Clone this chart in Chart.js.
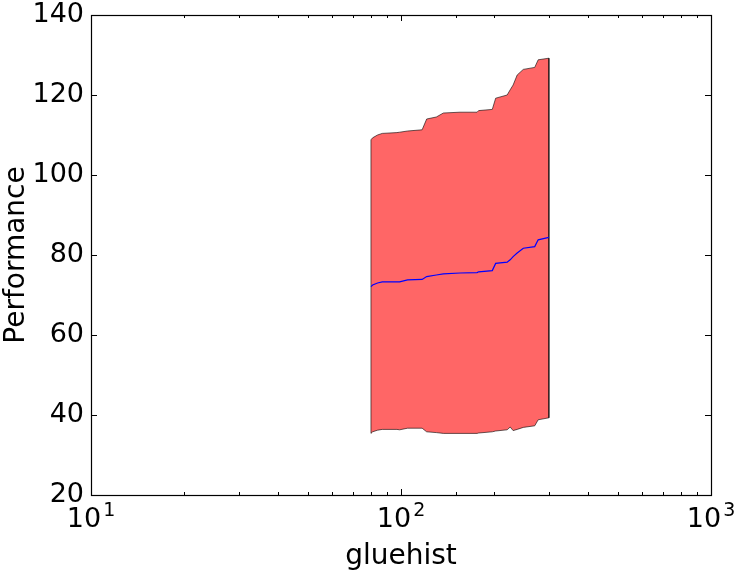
<!DOCTYPE html>
<html>
<head>
<meta charset="utf-8">
<script src="https://cdn.jsdelivr.net/npm/chart.js@4"></script>
<style>
  html, body { margin: 0; padding: 0; background: #fff; }
  #wrap { width: 736px; height: 571px; position: relative; }
</style>
</head>
<body>
<div id="wrap"><canvas id="chart"></canvas></div>
<script>
const xValues = [80, 81, 84, 87, 97, 99, 105, 117, 121, 130, 137, 155, 176, 178, 197, 202, 220, 225, 230, 237, 248, 270, 277, 300];
const upper = [108.8, 109.3, 110.0, 110.4, 110.6, 110.7, 111.0, 111.3, 114.0, 114.5, 115.5, 115.7, 115.7, 116.1, 116.4, 119.2, 120.0, 121.3, 122.5, 125.0, 126.4, 126.9, 128.8, 129.2];
const middle = [72.1, 72.5, 73.0, 73.3, 73.3, 73.3, 73.8, 73.9, 74.6, 75.0, 75.3, 75.5, 75.6, 75.8, 76.1, 77.9, 78.2, 78.8, 79.6, 80.5, 81.7, 82.1, 83.8, 84.4];
const lower = [35.4, 35.8, 36.2, 36.4, 36.4, 36.3, 36.7, 36.7, 35.8, 35.6, 35.4, 35.4, 35.4, 35.5, 35.8, 36.0, 36.3, 37.0, 36.1, 36.4, 36.9, 37.3, 38.8, 39.3];
const yTicks = [20, 40, 60, 80, 100, 120, 140];
const xLabel = 'gluehist';
const yLabel = 'Performance';

const FONT = "'DejaVu Sans', sans-serif";

function isPow10(v) {
  const e = Math.log10(v);
  return Math.abs(e - Math.round(e)) < 1e-9;
}

// closed outline: upper forward, lower back, then back to the start
function bandOutline() {
  const pts = xValues.map((x, i) => ({ x, y: upper[i] }));
  for (let i = xValues.length - 1; i >= 0; i--) pts.push({ x: xValues[i], y: lower[i] });
  pts.push({ x: xValues[0], y: upper[0] });
  return pts;
}

// matplotlib-like frame with inward ticks on all four sides, plus 10^n labels
const frameTicks = {
  id: 'frameTicks',
  afterDatasetsDraw(chart) {
    const { ctx, chartArea: a, scales: { x, y } } = chart;
    ctx.save();
    ctx.strokeStyle = '#000';
    ctx.lineWidth = 1;
    ctx.beginPath();
    x.ticks.forEach(t => {
      const px = Math.round(x.getPixelForValue(t.value)) + 0.5;
      const len = isPow10(t.value) ? 6 : 3;
      ctx.moveTo(px, a.bottom); ctx.lineTo(px, a.bottom - len);
      ctx.moveTo(px, a.top); ctx.lineTo(px, a.top + len);
    });
    y.ticks.forEach(t => {
      const py = Math.round(y.getPixelForValue(t.value)) + 0.5;
      ctx.moveTo(a.left, py); ctx.lineTo(a.left + 6, py);
      ctx.moveTo(a.right, py); ctx.lineTo(a.right - 6, py);
    });
    ctx.stroke();
    ctx.lineWidth = 1.2;
    ctx.strokeRect(Math.round(a.left) + 0.5, Math.round(a.top) + 0.5,
      Math.round(a.right - a.left), Math.round(a.bottom - a.top));

    ctx.fillStyle = '#000';
    ctx.textBaseline = 'alphabetic';
    ctx.textAlign = 'left';
    x.ticks.filter(t => isPow10(t.value)).forEach(t => {
      const px = x.getPixelForValue(t.value);
      const exp = String(Math.round(Math.log10(t.value)));
      ctx.font = `27px ${FONT}`;
      const wBase = ctx.measureText('10').width;
      ctx.font = `19px ${FONT}`;
      const wExp = ctx.measureText(exp).width;
      const left = px - (wBase + 2 + wExp) / 2;
      const base = a.bottom + 32;
      ctx.font = `27px ${FONT}`;
      ctx.fillText('10', left, base);
      ctx.font = `19px ${FONT}`;
      ctx.fillText(exp, left + wBase + 2, base - 11);
    });
    ctx.restore();
  },
};

Chart.defaults.font.family = FONT;
Chart.defaults.font.size = 27;
Chart.defaults.color = '#000';

new Chart(document.getElementById('chart'), {
  type: 'line',
  data: {
    datasets: [
      {
        label: 'mean',
        data: xValues.map((x, i) => ({ x, y: middle[i] })),
        borderColor: '#0000ff',
        borderWidth: 1.2,
        pointRadius: 0,
        tension: 0,
        fill: false,
      },
      {
        label: 'band',
        data: bandOutline(),
        borderColor: 'rgba(0, 0, 0, 0.6)',
        borderWidth: 1,
        backgroundColor: 'rgba(255, 0, 0, 0.6)',
        pointRadius: 0,
        tension: 0,
        fill: 'shape',
      },
    ],
  },
  options: {
    responsive: true,
    maintainAspectRatio: false,
    animation: false,
    layout: { padding: { top: 15, right: 25, left: 0, bottom: 0 } },
    plugins: {
      legend: { display: false },
      tooltip: { enabled: false },
    },
    scales: {
      x: {
        type: 'logarithmic',
        min: 10,
        max: 1000,
        grid: { drawOnChartArea: false, drawTicks: false },
        border: { display: false },
        ticks: { display: false, autoSkip: false },
        title: {
          display: true,
          text: xLabel,
          font: { size: 28, lineHeight: 1 },
          padding: { top: 0, bottom: 0 },
        },
        afterFit: scale => {
          scale.height = 76;
          scale.paddingLeft = 0;
          scale.paddingRight = 0;
        },
      },
      y: {
        min: 20,
        max: 140,
        afterBuildTicks: scale => { scale.ticks = yTicks.map(value => ({ value })); },
        grid: { drawOnChartArea: false, drawTicks: false },
        border: { display: false },
        ticks: { padding: 7 },
        title: {
          display: true,
          text: yLabel,
          font: { size: 28, lineHeight: 1 },
          padding: { top: 3, bottom: 0 },
        },
        afterFit: scale => {
          scale.width = 91;
          scale.paddingTop = 0;
          scale.paddingBottom = 0;
        },
      },
    },
  },
  plugins: [frameTicks],
});
</script>
</body>
</html>
